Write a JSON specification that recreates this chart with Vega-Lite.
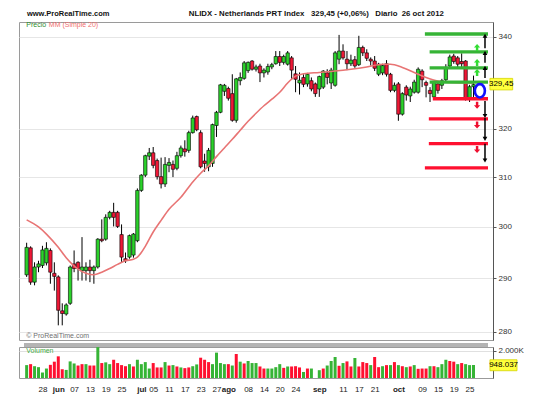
{
"$schema": "https://vega.github.io/schema/vega-lite/v6.json",
"padding": {"left": 18, "top": 9, "right": 0, "bottom": 0},
"background": "white",
"config": {"font": "Liberation Sans", "view": {"stroke": "#9a9a9a", "strokeWidth": 1}, "axis": {"labelOverlap": false}, "axisX": {"labelOverlap": false, "labelFlush": false}},
"spacing": 1,
"datasets": {
"c": [
{"i":0,"o":290.7,"h":296.9,"l":290.3,"c":296.0,"v":940,"vd":"u"},
{"i":1,"o":295.9,"h":296.2,"l":288.8,"c":289.3,"v":1010,"vd":"d"},
{"i":2,"o":289.3,"h":293.1,"l":288.7,"c":292.2,"v":860,"vd":"u"},
{"i":3,"o":292.2,"h":293.4,"l":291.2,"c":292.8,"v":790,"vd":"u"},
{"i":4,"o":292.5,"h":296.3,"l":292.0,"c":295.5,"v":400,"vd":"u"},
{"i":5,"o":293.0,"h":297.0,"l":292.5,"c":295.8,"v":690,"vd":"u"},
{"i":6,"o":295.4,"h":295.8,"l":289.0,"c":291.2,"v":960,"vd":"d"},
{"i":7,"o":291.0,"h":293.1,"l":287.7,"c":290.4,"v":1190,"vd":"d"},
{"i":8,"o":290.3,"h":290.6,"l":281.2,"c":284.0,"v":1580,"vd":"d"},
{"i":9,"o":283.9,"h":285.3,"l":281.2,"c":283.4,"v":640,"vd":"d"},
{"i":10,"o":283.3,"h":285.3,"l":283.0,"c":285.0,"v":590,"vd":"u"},
{"i":11,"o":285.3,"h":292.5,"l":285.0,"c":292.2,"v":1210,"vd":"u"},
{"i":12,"o":292.8,"h":295.4,"l":291.2,"c":291.9,"v":1060,"vd":"u"},
{"i":13,"o":293.1,"h":293.3,"l":289.6,"c":291.9,"v":910,"vd":"d"},
{"i":14,"o":291.5,"h":298.0,"l":289.6,"c":292.2,"v":1010,"vd":"d"},
{"i":15,"o":291.5,"h":293.1,"l":289.6,"c":292.2,"v":1010,"vd":"u"},
{"i":16,"o":292.2,"h":293.6,"l":289.3,"c":291.5,"v":910,"vd":"d"},
{"i":17,"o":291.5,"h":292.5,"l":289.0,"c":292.2,"v":910,"vd":"d"},
{"i":18,"o":292.2,"h":297.8,"l":291.9,"c":297.6,"v":2250,"vd":"u"},
{"i":19,"o":297.6,"h":301.5,"l":297.0,"c":297.3,"v":1090,"vd":"d"},
{"i":20,"o":297.6,"h":302.5,"l":297.3,"c":301.9,"v":1140,"vd":"u"},
{"i":21,"o":301.9,"h":303.2,"l":301.5,"c":302.9,"v":1010,"vd":"u"},
{"i":22,"o":302.9,"h":304.8,"l":300.1,"c":301.9,"v":1330,"vd":"d"},
{"i":23,"o":302.9,"h":303.2,"l":299.8,"c":300.1,"v":1090,"vd":"d"},
{"i":24,"o":298.5,"h":300.5,"l":293.1,"c":294.1,"v":940,"vd":"d"},
{"i":25,"o":293.8,"h":295.0,"l":293.0,"c":293.4,"v":860,"vd":"d"},
{"i":26,"o":294.1,"h":298.5,"l":293.8,"c":298.3,"v":1010,"vd":"u"},
{"i":27,"o":294.5,"h":298.8,"l":294.0,"c":298.6,"v":840,"vd":"d"},
{"i":28,"o":297.3,"h":307.7,"l":297.0,"c":307.3,"v":1330,"vd":"u"},
{"i":29,"o":307.3,"h":310.6,"l":307.0,"c":310.4,"v":1010,"vd":"u"},
{"i":30,"o":310.4,"h":314.6,"l":310.0,"c":314.4,"v":1160,"vd":"u"},
{"i":31,"o":314.3,"h":316.0,"l":313.5,"c":315.0,"v":690,"vd":"u"},
{"i":32,"o":315.0,"h":316.2,"l":311.8,"c":312.4,"v":1090,"vd":"d"},
{"i":33,"o":313.4,"h":313.8,"l":309.5,"c":310.1,"v":770,"vd":"d"},
{"i":34,"o":310.1,"h":314.0,"l":307.7,"c":308.6,"v":770,"vd":"d"},
{"i":35,"o":308.6,"h":314.1,"l":308.0,"c":312.6,"v":1160,"vd":"u"},
{"i":36,"o":312.4,"h":313.9,"l":311.0,"c":313.0,"v":910,"vd":"d"},
{"i":37,"o":312.6,"h":313.4,"l":310.0,"c":311.6,"v":940,"vd":"u"},
{"i":38,"o":311.8,"h":315.2,"l":311.4,"c":314.4,"v":840,"vd":"d"},
{"i":39,"o":314.4,"h":316.5,"l":314.0,"c":316.0,"v":770,"vd":"u"},
{"i":40,"o":315.8,"h":317.6,"l":314.2,"c":315.2,"v":720,"vd":"d"},
{"i":41,"o":315.5,"h":319.6,"l":315.0,"c":319.2,"v":770,"vd":"d"},
{"i":42,"o":319.2,"h":322.8,"l":319.0,"c":322.3,"v":860,"vd":"u"},
{"i":43,"o":322.6,"h":322.8,"l":319.5,"c":319.8,"v":990,"vd":"u"},
{"i":44,"o":319.2,"h":319.7,"l":311.8,"c":312.1,"v":1480,"vd":"d"},
{"i":45,"o":313.3,"h":314.8,"l":311.1,"c":312.8,"v":1330,"vd":"d"},
{"i":46,"o":312.1,"h":316.0,"l":311.2,"c":315.5,"v":1160,"vd":"d"},
{"i":47,"o":312.8,"h":321.1,"l":312.1,"c":320.9,"v":1010,"vd":"u"},
{"i":48,"o":320.7,"h":323.8,"l":318.3,"c":323.5,"v":1850,"vd":"u"},
{"i":49,"o":323.5,"h":329.6,"l":323.3,"c":329.4,"v":1090,"vd":"u"},
{"i":50,"o":328.0,"h":329.6,"l":327.0,"c":329.3,"v":1010,"vd":"u"},
{"i":51,"o":328.6,"h":329.0,"l":326.0,"c":326.5,"v":1010,"vd":"d"},
{"i":52,"o":327.5,"h":331.7,"l":321.5,"c":321.8,"v":910,"vd":"u"},
{"i":53,"o":321.8,"h":330.9,"l":321.3,"c":330.7,"v":1750,"vd":"d"},
{"i":54,"o":330.3,"h":332.1,"l":329.3,"c":331.0,"v":1190,"vd":"u"},
{"i":55,"o":330.8,"h":334.6,"l":330.5,"c":334.2,"v":1060,"vd":"d"},
{"i":56,"o":332.5,"h":334.5,"l":332.0,"c":334.3,"v":1240,"vd":"u"},
{"i":57,"o":334.6,"h":334.8,"l":332.5,"c":332.8,"v":1090,"vd":"u"},
{"i":58,"o":332.8,"h":333.8,"l":332.3,"c":333.3,"v":1090,"vd":"u"},
{"i":59,"o":333.5,"h":334.0,"l":330.0,"c":332.0,"v":840,"vd":"d"},
{"i":60,"o":332.0,"h":333.0,"l":331.0,"c":332.6,"v":690,"vd":"d"},
{"i":61,"o":332.2,"h":334.0,"l":331.6,"c":333.4,"v":690,"vd":"u"},
{"i":62,"o":333.3,"h":334.2,"l":332.8,"c":333.8,"v":690,"vd":"u"},
{"i":63,"o":334.0,"h":336.8,"l":333.8,"c":335.6,"v":790,"vd":"u"},
{"i":64,"o":335.6,"h":336.8,"l":333.5,"c":334.3,"v":1010,"vd":"u"},
{"i":65,"o":334.3,"h":336.0,"l":333.8,"c":335.6,"v":740,"vd":"d"},
{"i":66,"o":333.9,"h":336.8,"l":333.6,"c":336.4,"v":840,"vd":"u"},
{"i":67,"o":335.3,"h":335.7,"l":330.6,"c":332.6,"v":840,"vd":"d"},
{"i":68,"o":331.8,"h":333.5,"l":327.8,"c":330.6,"v":860,"vd":"d"},
{"i":69,"o":329.8,"h":332.1,"l":327.3,"c":330.4,"v":770,"vd":"d"},
{"i":70,"o":331.0,"h":331.7,"l":328.9,"c":329.5,"v":440,"vd":"u"},
{"i":71,"o":329.6,"h":332.0,"l":329.0,"c":331.7,"v":690,"vd":"d"},
{"i":72,"o":330.3,"h":331.0,"l":328.0,"c":328.5,"v":690,"vd":"u"},
{"i":73,"o":329.6,"h":329.9,"l":326.8,"c":327.5,"v":0,"vd":"d"},
{"i":74,"o":328.5,"h":331.4,"l":326.8,"c":331.2,"v":570,"vd":"u"},
{"i":75,"o":328.9,"h":332.6,"l":328.5,"c":332.4,"v":690,"vd":"d"},
{"i":76,"o":332.0,"h":332.8,"l":329.5,"c":331.0,"v":910,"vd":"u"},
{"i":77,"o":329.8,"h":333.1,"l":328.5,"c":332.6,"v":1240,"vd":"u"},
{"i":78,"o":329.3,"h":336.8,"l":329.0,"c":336.4,"v":1530,"vd":"u"},
{"i":79,"o":335.0,"h":340.4,"l":333.9,"c":336.8,"v":890,"vd":"d"},
{"i":80,"o":336.8,"h":338.3,"l":334.9,"c":335.3,"v":1090,"vd":"u"},
{"i":81,"o":335.0,"h":336.8,"l":332.6,"c":334.0,"v":1210,"vd":"d"},
{"i":82,"o":334.0,"h":336.0,"l":333.5,"c":334.8,"v":840,"vd":"d"},
{"i":83,"o":334.9,"h":335.7,"l":333.1,"c":333.5,"v":1460,"vd":"u"},
{"i":84,"o":333.8,"h":340.2,"l":333.5,"c":337.6,"v":840,"vd":"d"},
{"i":85,"o":337.6,"h":338.0,"l":335.7,"c":336.4,"v":1160,"vd":"d"},
{"i":86,"o":336.4,"h":337.2,"l":334.6,"c":335.2,"v":1090,"vd":"d"},
{"i":87,"o":335.0,"h":335.4,"l":333.6,"c":334.6,"v":940,"vd":"u"},
{"i":88,"o":334.6,"h":335.7,"l":332.4,"c":333.0,"v":1530,"vd":"d"},
{"i":89,"o":331.7,"h":334.2,"l":331.3,"c":333.9,"v":790,"vd":"d"},
{"i":90,"o":332.0,"h":334.0,"l":331.5,"c":333.6,"v":860,"vd":"u"},
{"i":91,"o":334.0,"h":334.8,"l":331.2,"c":331.7,"v":940,"vd":"d"},
{"i":92,"o":331.7,"h":332.0,"l":327.8,"c":328.2,"v":940,"vd":"u"},
{"i":93,"o":328.2,"h":329.9,"l":327.8,"c":329.3,"v":1160,"vd":"d"},
{"i":94,"o":329.6,"h":330.0,"l":321.7,"c":323.1,"v":940,"vd":"u"},
{"i":95,"o":323.1,"h":327.8,"l":322.8,"c":327.5,"v":860,"vd":"d"},
{"i":96,"o":328.9,"h":329.3,"l":326.0,"c":327.2,"v":790,"vd":"u"},
{"i":97,"o":327.0,"h":329.0,"l":325.7,"c":328.5,"v":840,"vd":"d"},
{"i":98,"o":327.8,"h":330.5,"l":327.5,"c":330.0,"v":940,"vd":"u"},
{"i":99,"o":327.8,"h":333.2,"l":327.5,"c":332.8,"v":670,"vd":"d"},
{"i":100,"o":332.4,"h":332.8,"l":328.9,"c":330.5,"v":690,"vd":"d"},
{"i":101,"o":329.9,"h":330.3,"l":326.7,"c":329.3,"v":690,"vd":"d"},
{"i":102,"o":328.2,"h":328.9,"l":325.7,"c":327.5,"v":860,"vd":"u"},
{"i":103,"o":326.8,"h":330.0,"l":326.3,"c":329.9,"v":860,"vd":"d"},
{"i":104,"o":329.6,"h":330.0,"l":327.5,"c":328.2,"v":790,"vd":"u"},
{"i":105,"o":329.3,"h":330.7,"l":328.5,"c":330.3,"v":1010,"vd":"u"},
{"i":106,"o":330.5,"h":333.9,"l":330.0,"c":333.2,"v":1330,"vd":"u"},
{"i":107,"o":333.5,"h":336.0,"l":333.0,"c":335.5,"v":1240,"vd":"d"},
{"i":108,"o":335.7,"h":336.2,"l":334.0,"c":334.5,"v":1190,"vd":"d"},
{"i":109,"o":335.3,"h":335.7,"l":333.2,"c":333.9,"v":1010,"vd":"u"},
{"i":110,"o":334.5,"h":336.3,"l":333.2,"c":334.0,"v":1090,"vd":"d"},
{"i":111,"o":334.6,"h":334.8,"l":326.0,"c":326.4,"v":1010,"vd":"u"},
{"i":112,"o":326.6,"h":329.4,"l":325.7,"c":329.0,"v":940,"vd":"u"},
{"i":113,"o":329.0,"h":331.4,"l":326.7,"c":329.45,"v":948,"vd":"u"}
],
"ma": [
{"i":0,"m":301.4},{"i":3,"m":300.0},{"i":5,"m":298.6},{"i":8,"m":296.0},{"i":10,"m":294.0},{"i":13,"m":291.8},{"i":15,"m":291.0},{"i":17,"m":290.7},{"i":19,"m":291.2},{"i":21,"m":291.9},{"i":23,"m":292.7},{"i":25,"m":293.4},{"i":27,"m":293.7},{"i":28,"m":294.1},{"i":29,"m":295.0},{"i":30,"m":296.2},{"i":32,"m":299.0},{"i":34,"m":301.3},{"i":36,"m":303.5},{"i":39,"m":305.9},{"i":42,"m":309.0},{"i":44,"m":310.8},{"i":46,"m":312.3},{"i":48,"m":314.2},{"i":50,"m":316.0},{"i":52,"m":317.8},{"i":54,"m":319.7},{"i":56,"m":321.6},{"i":58,"m":323.3},{"i":60,"m":324.9},{"i":62,"m":326.3},{"i":64,"m":327.8},{"i":66,"m":329.8},{"i":68,"m":331.3},{"i":70,"m":331.8},{"i":74,"m":332.1},{"i":78,"m":332.4},{"i":82,"m":332.8},{"i":86,"m":333.3},{"i":90,"m":333.9},{"i":92,"m":333.9},{"i":95,"m":333.2},{"i":98,"m":332.1},{"i":101,"m":331.0},{"i":104,"m":330.2},{"i":107,"m":329.9},{"i":110,"m":329.8},{"i":113,"m":329.8}
],
"lvl": [
{"p":340.6,"a":100.7,"b":116.66,"k":"res"},
{"p":336.6,"a":101.9,"b":116.66,"k":"res"},
{"p":333.1,"a":101.9,"b":116.66,"k":"res"},
{"p":330.0,"a":101.9,"b":116.66,"k":"res"},
{"p":326.4,"a":102.7,"b":116.66,"k":"sup"},
{"p":322.1,"a":101.7,"b":116.66,"k":"sup"},
{"p":316.9,"a":101.7,"b":116.66,"k":"sup"},
{"p":311.9,"a":100.7,"b":116.66,"k":"sup"}
],
"arr": [
{"i":113.9,"p":337.6,"k":"res"},{"i":113.9,"p":334.3,"k":"res"},{"i":113.9,"p":332.1,"k":"res"},
{"i":113.9,"p":325.0,"k":"sup"},{"i":113.9,"p":320.8,"k":"sup"},{"i":113.9,"p":315.7,"k":"sup"}
],
"barr": [
{"i":115.9,"a":340.2,"b":337.4,"k":"res"},{"i":115.9,"a":336.4,"b":334.2,"k":"res"},{"i":115.9,"a":333.1,"b":330.9,"k":"res"},
{"i":115.9,"a":325.9,"b":322.7,"k":"sup"},{"i":115.9,"a":322.3,"b":317.9,"k":"sup"},{"i":115.9,"a":316.9,"b":313.4,"k":"sup"}
]
},
"vconcat": [
{
"width": 474, "height": 318,
"layer": [
{"data": {"name": "c"}, "mark": {"type": "rule", "color": "#000000", "strokeWidth": 1},
 "encoding": {
  "x": {"field": "i", "type": "quantitative", "scale": {"domain": [-0.67, 116.66], "nice": false, "zero": false}, "axis": null},
  "y": {"field": "l", "type": "quantitative", "scale": {"type": "log", "domain": [278.5, 343.3], "nice": false, "zero": false},
        "axis": {"orient": "right", "values": [280,290,300,310,320,340], "tickCount": 20, "format": "d", "title": null, "labelFontSize": 8, "labelColor": "#333333", "tickSize": 3, "tickColor": "#555555", "domainColor": "#555555", "gridColor": "#e6e6e6", "labelPadding": 2}},
  "y2": {"field": "h"}}},
{"data": {"name": "c"}, "mark": {"type": "bar", "size": 3.4, "stroke": "#000000", "strokeWidth": 0.6},
 "encoding": {
  "x": {"field": "i", "type": "quantitative", "axis": null},
  "y": {"field": "o", "type": "quantitative"},
  "y2": {"field": "c"},
  "color": {"condition": {"test": "datum.c >= datum.o", "value": "#2bd12b"}, "value": "#ee1836"}}},
{"data": {"name": "ma"}, "mark": {"type": "line", "color": "#e87474", "strokeWidth": 1.6, "interpolate": "monotone"},
 "encoding": {"x": {"field": "i", "type": "quantitative", "axis": null}, "y": {"field": "m", "type": "quantitative"}}},
{"data": {"name": "lvl"}, "mark": {"type": "rule", "strokeWidth": 3.3},
 "encoding": {"x": {"field": "a", "type": "quantitative", "axis": null}, "x2": {"field": "b"}, "y": {"field": "p", "type": "quantitative"},
  "color": {"field": "k", "type": "nominal", "scale": {"domain": ["res", "sup"], "range": ["#36b436", "#ff1030"]}, "legend": null}}},
{"data": {"name": "arr"}, "transform": [{"filter": "datum.k == 'res'"}], "mark": {"type": "point", "filled": true, "size": 49, "color": "#33dd33", "opacity": 1, "shape": "M0,-1L0.9,0L0.35,0L0.35,1L-0.35,1L-0.35,0L-0.9,0Z"},
 "encoding": {"x": {"field": "i", "type": "quantitative", "axis": null}, "y": {"field": "p", "type": "quantitative"}}},
{"data": {"name": "arr"}, "transform": [{"filter": "datum.k == 'sup'"}], "mark": {"type": "point", "filled": true, "size": 49, "color": "#ee1030", "opacity": 1, "shape": "M0,1L0.9,0L0.35,0L0.35,-1L-0.35,-1L-0.35,0L-0.9,0Z"},
 "encoding": {"x": {"field": "i", "type": "quantitative", "axis": null}, "y": {"field": "p", "type": "quantitative"}}},
{"data": {"name": "barr"}, "mark": {"type": "rule", "color": "#000000", "strokeWidth": 1.5},
 "encoding": {"x": {"field": "i", "type": "quantitative", "axis": null}, "y": {"field": "a", "type": "quantitative"}, "y2": {"field": "b"}}},
{"data": {"name": "barr"}, "transform": [{"filter": "datum.k == 'res'"}], "mark": {"type": "point", "filled": true, "size": 22, "color": "#000000", "opacity": 1, "shape": "triangle-up"},
 "encoding": {"x": {"field": "i", "type": "quantitative", "axis": null}, "y": {"field": "a", "type": "quantitative"}}},
{"data": {"name": "barr"}, "transform": [{"filter": "datum.k == 'sup'"}], "mark": {"type": "point", "filled": true, "size": 22, "color": "#000000", "opacity": 1, "shape": "triangle-down"},
 "encoding": {"x": {"field": "i", "type": "quantitative", "axis": null}, "y": {"field": "b", "type": "quantitative"}}},
{"data": {"values": [{"i": 114.6, "p": 328.1}]}, "mark": {"type": "point", "filled": false, "size": 180, "stroke": "#1010ff", "strokeWidth": 2.6, "opacity": 1, "shape": "M0,-1A0.75,1 0 1,1 0,1A0.75,1 0 1,1 0,-1Z"},
 "encoding": {"x": {"field": "i", "type": "quantitative", "axis": null}, "y": {"field": "p", "type": "quantitative"}}},
{"data": {"values": [{"a": 117.15, "b": 122.9, "p1": 330.8, "p2": 328.3}]}, "mark": {"type": "rect", "fill": "#ffff3c", "stroke": "#d6d600", "strokeWidth": 0.8},
 "encoding": {"x": {"field": "a", "type": "quantitative", "axis": null}, "x2": {"field": "b"}, "y": {"field": "p1", "type": "quantitative"}, "y2": {"field": "p2"}}},
{"data": {"values": [{"i": 120.0, "p": 329.55, "t": "329,45"}]}, "mark": {"type": "text", "fontSize": 8, "color": "#000000", "align": "center", "baseline": "middle"},
 "encoding": {"x": {"field": "i", "type": "quantitative", "axis": null}, "y": {"field": "p", "type": "quantitative"}, "text": {"field": "t"}}},
{"data": {"values": [{"i": 0.07, "p": 345.1, "t": "www.ProRealTime.com"}]}, "mark": {"type": "text", "fontSize": 7.5, "fontWeight": "bold", "color": "#111111", "align": "left", "baseline": "middle"},
 "encoding": {"x": {"field": "i", "type": "quantitative", "axis": null}, "y": {"field": "p", "type": "quantitative"}, "text": {"field": "t"}}},
{"data": {"values": [{"i": 41.0, "p": 345.1, "t": "NLIDX - Netherlands PRT Index\u00a0\u00a0\u00a0329,45 (+0,06%)\u00a0\u00a0\u00a0Diario\u00a0\u00a026 oct 2012"}]}, "mark": {"type": "text", "fontSize": 7.8, "fontWeight": "bold", "color": "#111111", "align": "left", "baseline": "middle"},
 "encoding": {"x": {"field": "i", "type": "quantitative", "axis": null}, "y": {"field": "p", "type": "quantitative"}, "text": {"field": "t"}}},
{"data": {"values": [{"i": -0.1, "p": 342.6, "t": "Precio"}]}, "mark": {"type": "text", "fontSize": 7, "color": "#2e8b2e", "align": "left", "baseline": "middle"},
 "encoding": {"x": {"field": "i", "type": "quantitative", "axis": null}, "y": {"field": "p", "type": "quantitative"}, "text": {"field": "t"}}},
{"data": {"values": [{"i": 5.6, "p": 342.6, "t": "MM (Simple 20)"}]}, "mark": {"type": "text", "fontSize": 7, "color": "#f07070", "align": "left", "baseline": "middle"},
 "encoding": {"x": {"field": "i", "type": "quantitative", "axis": null}, "y": {"field": "p", "type": "quantitative"}, "text": {"field": "t"}}},
{"data": {"values": [{"i": -0.1, "p": 279.2, "t": "© ProRealTime.com"}]}, "mark": {"type": "text", "fontSize": 7, "color": "#707070", "align": "left", "baseline": "middle"},
 "encoding": {"x": {"field": "i", "type": "quantitative", "axis": null}, "y": {"field": "p", "type": "quantitative"}, "text": {"field": "t"}}}
]
},
{
"width": 474, "height": 31,
"layer": [
{"data": {"values": [{"a": -0.67, "b": 116.66, "v1": 2260, "v2": 2560}]}, "mark": {"type": "rect", "fill": "#b4b4b4"},
 "encoding": {"x": {"field": "a", "type": "quantitative", "scale": {"domain": [-0.67, 116.66], "nice": false, "zero": false},
   "axis": {"orient": "bottom", "values": [4,8,12,16,20,24,29,32,36,40,44,48,51,56,60,64,68,74,80,84,88,94,100,104,108,112], "tickCount": 60,
     "labelExpr": "['28','jun','07','13','19','25','jul','05','11','17','23','27','ago','08','14','20','24','sep','11','17','21','oct','09','15','19','25'][indexof([4,8,12,16,20,24,29,32,36,40,44,48,51,56,60,64,68,74,80,84,88,94,100,104,108,112], datum.value)]",
     "labelFontWeight": {"condition": {"test": "indexof([8,29,51,74,94], datum.value) >= 0", "value": "bold"}, "value": "normal"},
     "labelFontSize": 8, "labelColor": "#222222", "ticks": false, "tickSize": 0, "domain": false, "grid": false, "labelPadding": 7, "labelOverlap": false, "labelFlush": false, "labelBound": false, "title": null}},
  "x2": {"field": "b"},
  "y": {"field": "v1", "type": "quantitative", "scale": {"domain": [0, 2260], "nice": false, "zero": false},
   "axis": {"orient": "right", "values": [2000], "labelExpr": "'2.000K'", "title": null, "labelFontSize": 8, "labelColor": "#333333", "tickSize": 3, "tickColor": "#555555", "domainColor": "#555555", "gridColor": "#e0e0e0", "labelPadding": 2}},
  "y2": {"field": "v2"}}},
{"data": {"name": "c"}, "mark": {"type": "bar", "size": 3},
 "encoding": {"x": {"field": "i", "type": "quantitative"}, "y": {"field": "v", "type": "quantitative"},
  "color": {"field": "vd", "type": "nominal", "scale": {"domain": ["u", "d"], "range": ["#2f9e2f", "#ff2d4d"]}, "legend": null}}},
{"data": {"values": [{"i": -0.1, "v": 1950, "t": "Volumen"}]}, "mark": {"type": "text", "fontSize": 7, "color": "#44aa44", "align": "left", "baseline": "middle"},
 "encoding": {"x": {"field": "i", "type": "quantitative"}, "y": {"field": "v", "type": "quantitative"}, "text": {"field": "t"}}},
{"data": {"values": [{"a": 117.15, "b": 124.0, "v1": 1330, "v2": 530}]}, "mark": {"type": "rect", "fill": "#ffff3c", "stroke": "#d6d600", "strokeWidth": 0.8},
 "encoding": {"x": {"field": "a", "type": "quantitative"}, "x2": {"field": "b"}, "y": {"field": "v1", "type": "quantitative"}, "y2": {"field": "v2"}}},
{"data": {"values": [{"i": 120.6, "v": 930, "t": "948.037"}]}, "mark": {"type": "text", "fontSize": 8, "color": "#000000", "align": "center", "baseline": "middle"},
 "encoding": {"x": {"field": "i", "type": "quantitative"}, "y": {"field": "v", "type": "quantitative"}, "text": {"field": "t"}}}
]
}
]
}
